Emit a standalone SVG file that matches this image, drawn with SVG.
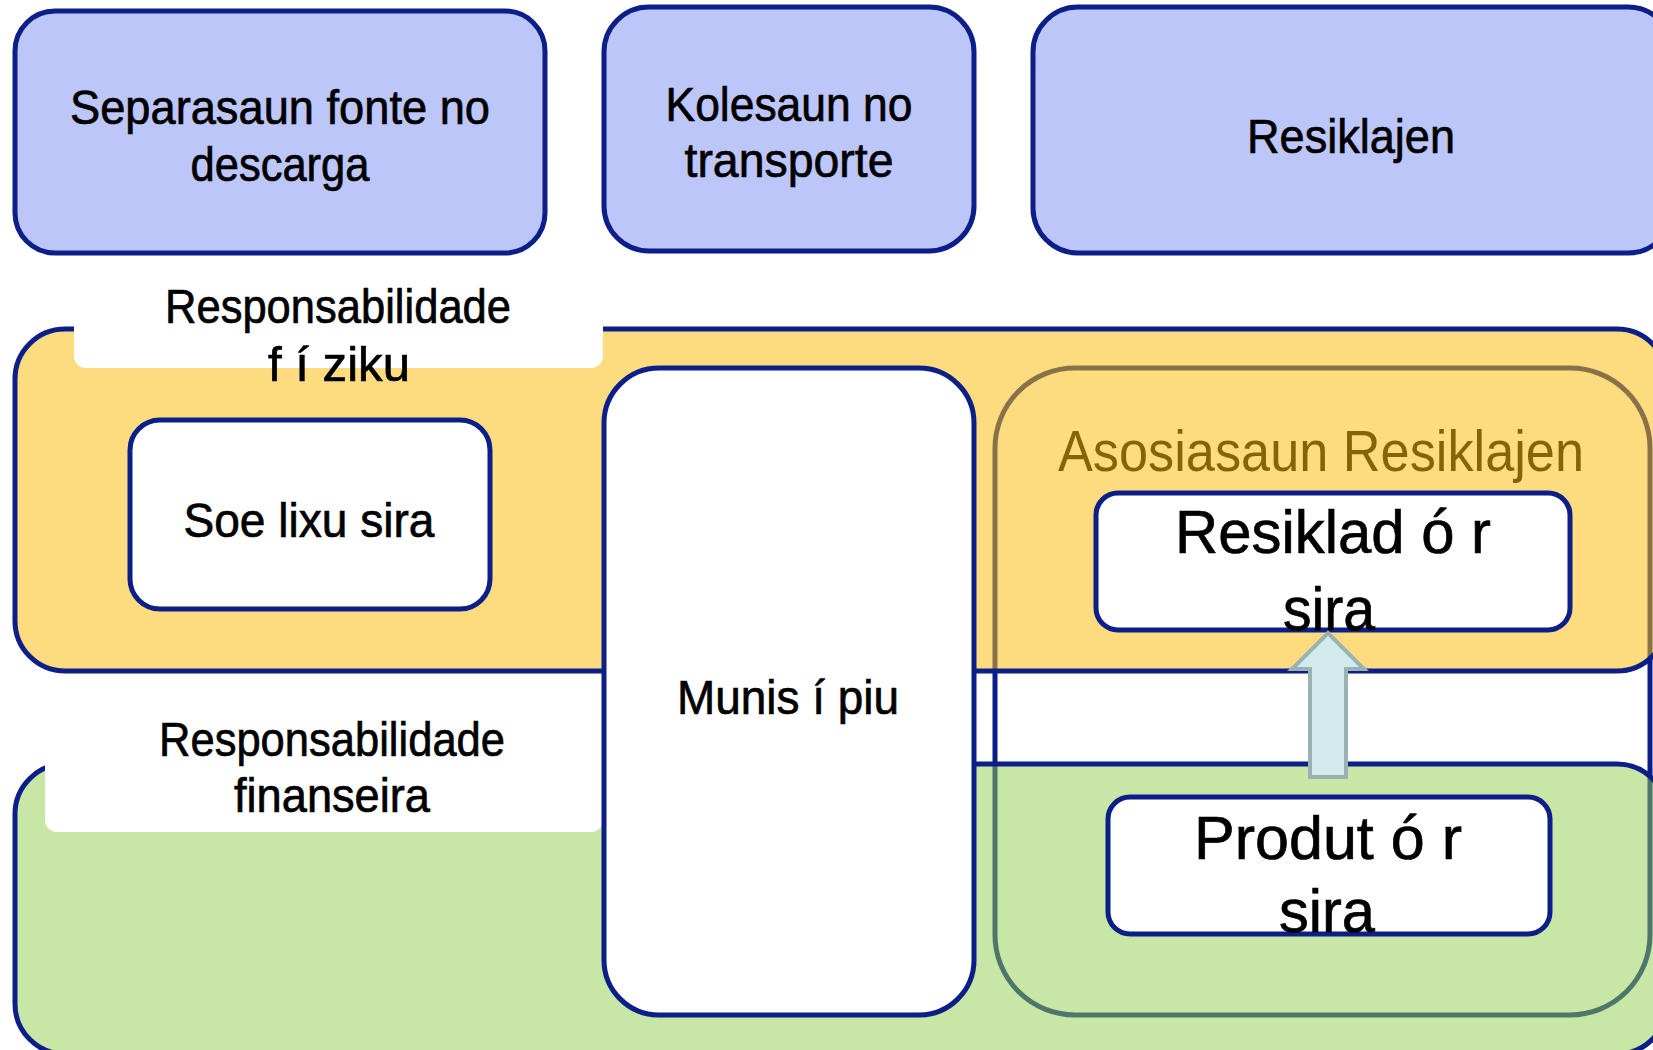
<svg xmlns="http://www.w3.org/2000/svg" width="1653" height="1050" viewBox="0 0 1653 1050">
<style>
.top{fill:#BCC6F8;stroke:#0C1E88;stroke-width:5}
.wbox{fill:#FFFFFF;stroke:#0C1E88;stroke-width:5}
.t{font-family:"Liberation Sans",Arial,sans-serif;font-size:49px;fill:#000;stroke:#000;stroke-width:0.7;text-anchor:middle}
.big{font-size:62px}
.tab{fill:#FFFFFF;stroke:none}
</style>
<rect width="1653" height="1050" fill="#FFFFFF"/>
<g id="asosiasaun">
<rect x="995" y="368" width="655" height="647" rx="80" fill="none" stroke="#0C1E88" stroke-width="5"/>
<text x="1321" y="471" font-family="Liberation Sans, Arial, sans-serif" font-size="57" fill="#000" text-anchor="middle" textLength="526" lengthAdjust="spacingAndGlyphs">Asosiasaun Resiklajen</text>
</g>
<g id="band-fiziku">
<rect x="15" y="329" width="1652" height="342" rx="50" fill="#FBBD0F" fill-opacity="0.53" stroke="#0C1E88" stroke-width="5"/>
<rect class="tab" x="74" y="268" width="529" height="100" rx="12"/>
<text class="t" x="338" y="323" textLength="346" lengthAdjust="spacingAndGlyphs">Responsabilidade</text>
<text class="t" x="339" y="381" textLength="142" lengthAdjust="spacingAndGlyphs">f í ziku</text>
</g>
<g id="band-finanseira">
<rect x="15" y="764" width="1652" height="290" rx="50" fill="#91CD4D" fill-opacity="0.5" stroke="#0C1E88" stroke-width="5"/>
<rect class="tab" x="45" y="690" width="558" height="142" rx="12"/>
<text class="t" x="332" y="756" textLength="346" lengthAdjust="spacingAndGlyphs">Responsabilidade</text>
<text class="t" x="332" y="812" textLength="196" lengthAdjust="spacingAndGlyphs">finanseira</text>
</g>
<g id="separasaun">
<rect class="top" x="15" y="11" width="530" height="242" rx="40"/>
<text class="t" x="280" y="124" textLength="420" lengthAdjust="spacingAndGlyphs">Separasaun fonte no</text>
<text class="t" x="280" y="181" textLength="179" lengthAdjust="spacingAndGlyphs">descarga</text>
</g>
<g id="kolesaun">
<rect class="top" x="604" y="7" width="370" height="244" rx="45"/>
<text class="t" x="789" y="121" textLength="247" lengthAdjust="spacingAndGlyphs">Kolesaun no</text>
<text class="t" x="789" y="177" textLength="209" lengthAdjust="spacingAndGlyphs">transporte</text>
</g>
<g id="resiklajen">
<rect class="top" x="1033" y="7" width="640" height="246" rx="45"/>
<text class="t" x="1351" y="153" textLength="208" lengthAdjust="spacingAndGlyphs">Resiklajen</text>
</g>
<g id="soe-lixu">
<rect class="wbox" x="130" y="420" width="360" height="189" rx="30"/>
<text class="t" x="309" y="537" textLength="251" lengthAdjust="spacingAndGlyphs">Soe lixu sira</text>
</g>
<g id="resiklador">
<rect class="wbox" x="1096" y="493" width="474" height="137" rx="22"/>
<text class="t big" x="1333" y="553" textLength="316" lengthAdjust="spacingAndGlyphs">Resiklad ó r</text>
<text class="t big" x="1329" y="630" textLength="92" lengthAdjust="spacingAndGlyphs">sira</text>
</g>
<g id="produtor">
<rect class="wbox" x="1108" y="797" width="442" height="137" rx="22"/>
<text class="t big" x="1328" y="859" textLength="268" lengthAdjust="spacingAndGlyphs">Produt ó r</text>
<text class="t big" x="1327" y="932" textLength="96" lengthAdjust="spacingAndGlyphs">sira</text>
</g>
<g id="connectors">
<polygon points="1310,777 1346,777 1346,669 1364,669 1328,633 1292,669 1310,669" fill="#D3EBEB" stroke="#9BB1B4" stroke-width="4"/>
</g>
<g id="munisipiu">
<rect class="wbox" x="604" y="368" width="370" height="647" rx="55"/>
<text class="t" x="788" y="714" textLength="222" lengthAdjust="spacingAndGlyphs">Munis í piu</text>
</g>
</svg>
